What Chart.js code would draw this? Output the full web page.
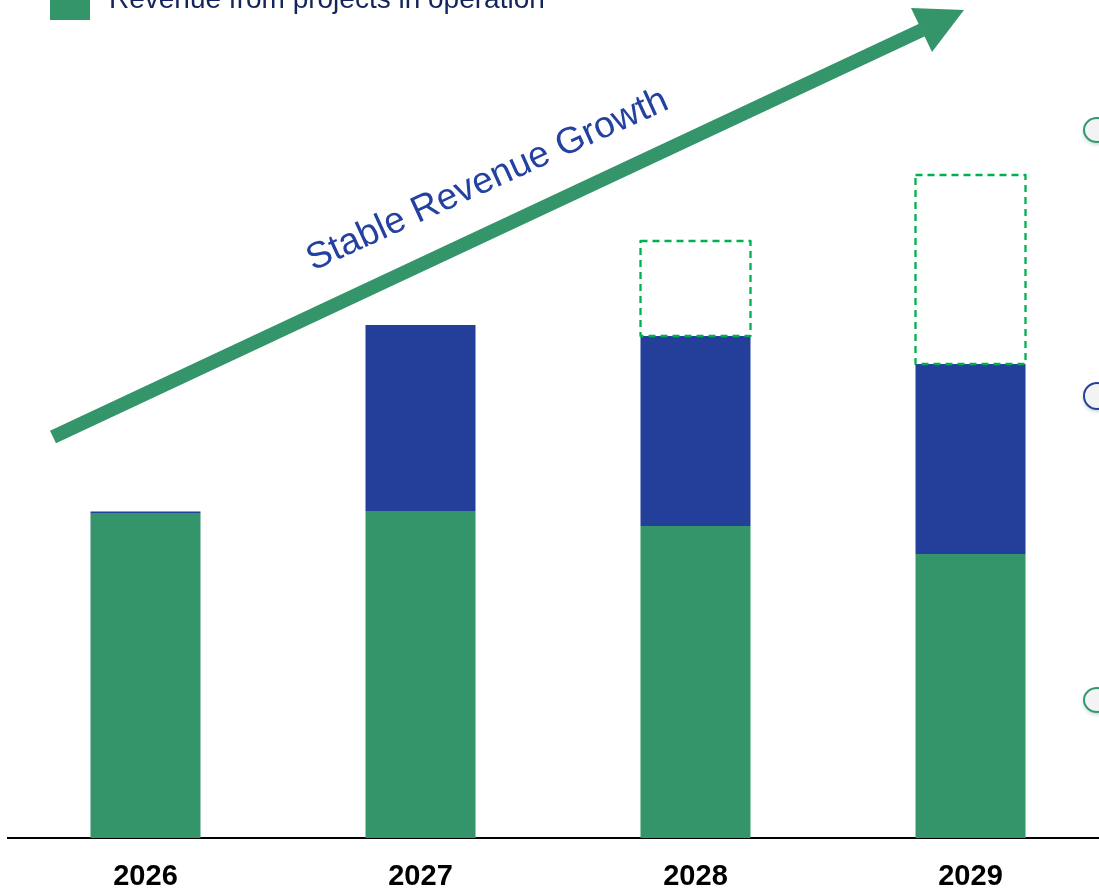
<!DOCTYPE html>
<html>
<head>
<meta charset="utf-8">
<script src="https://cdn.jsdelivr.net/npm/chart.js@4/dist/chart.umd.min.js"></script>
<style>
  html, body { margin: 0; padding: 0; background: #fff; overflow: hidden; }
  #wrap { width: 1110px; height: 889px; }
</style>
</head>
<body>
<div id="wrap"><canvas id="revenue-chart" width="1110" height="889"></canvas></div>
<script>
// values (arbitrary revenue units)
var years = ["2026", "2027", "2028", "2029"];
var operating = [32.5, 32.7, 31.2, 28.4];
var construction = [0.15, 18.6, 19.0, 19.0];
var pipeline = [0, 0, 9.5, 18.9];
var yMax = 83.8;

var FONT = "Arial, 'Liberation Sans', Helvetica, sans-serif";

// dashed outline for the pipeline segment, taken from the bar elements
var dashedBars = {
  id: 'dashedBars',
  afterDatasetsDraw: function (chart) {
    var ctx = chart.ctx;
    var meta = chart.getDatasetMeta(2);
    ctx.save();
    ctx.strokeStyle = '#00b050';
    ctx.lineWidth = 2.3;
    ctx.setLineDash([7, 5]);
    ctx.lineJoin = 'round';
    meta.data.forEach(function (bar, i) {
      if (!pipeline[i]) return;
      var w = bar.width;
      ctx.strokeRect(bar.x - w / 2, bar.y, w, bar.base - bar.y);
    });
    ctx.restore();
  }
};

// arrow, caption, cut-off legend and side markers
var decorations = {
  id: 'decorations',
  afterDraw: function (chart) {
    var ctx = chart.ctx;
    ctx.save();

    // arrow shaft + head
    ctx.strokeStyle = '#34946a';
    ctx.fillStyle = '#34946a';
    ctx.lineWidth = 14;
    ctx.lineCap = 'butt';
    ctx.beginPath();
    ctx.moveTo(53, 437);
    ctx.lineTo(922, 30);
    ctx.stroke();
    ctx.beginPath();
    ctx.moveTo(964, 10);
    ctx.lineTo(911, 8);
    ctx.lineTo(932, 52);
    ctx.closePath();
    ctx.fill();

    // caption along the arrow
    ctx.save();
    ctx.translate(313, 271);
    ctx.rotate(-24.5 * Math.PI / 180);
    ctx.font = '37px ' + FONT;
    ctx.fillStyle = '#2341a0';
    ctx.textAlign = 'left';
    ctx.textBaseline = 'alphabetic';
    ctx.fillText('Stable Revenue Growth', 0, 0);
    ctx.restore();

    // legend (cut off at top)
    ctx.fillStyle = '#34946a';
    ctx.fillRect(50, -20, 40, 40);
    ctx.fillStyle = '#14245c';
    ctx.font = '28px ' + FONT;
    ctx.textBaseline = 'alphabetic';
    ctx.fillText('Revenue from projects in operation', 109, 8);

    // markers on the right edge
    var marks = [[130, 12, '#2e9a6e'], [396, 13, '#27409a'], [700, 12, '#2e9a6e']];
    marks.forEach(function (m) {
      ctx.save();
      ctx.shadowColor = 'rgba(40,110,90,0.35)';
      ctx.shadowBlur = 4;
      ctx.shadowOffsetY = 2;
      ctx.beginPath();
      ctx.ellipse(1097, m[0], 13, m[1], 0, 0, Math.PI * 2);
      ctx.fillStyle = '#f3f3f3';
      ctx.fill();
      ctx.restore();
      ctx.beginPath();
      ctx.ellipse(1097, m[0], 13, m[1], 0, 0, Math.PI * 2);
      ctx.lineWidth = 2;
      ctx.strokeStyle = m[2];
      ctx.stroke();
    });

    ctx.restore();
  }
};

new Chart(document.getElementById('revenue-chart'), {
  type: 'bar',
  data: {
    labels: years,
    datasets: [
      {
        label: 'Revenue from projects in operation',
        data: operating,
        backgroundColor: '#34946a',
        borderWidth: 0
      },
      {
        label: 'Revenue from projects under construction',
        data: construction,
        backgroundColor: '#233f99',
        borderWidth: 0
      },
      {
        label: 'Pipeline',
        data: pipeline,
        backgroundColor: 'rgba(0,0,0,0)',
        borderWidth: 0
      }
    ]
  },
  options: {
    responsive: false,
    animation: false,
    devicePixelRatio: 1,
    layout: { padding: { left: 8, right: 2, top: 0, bottom: 0 } },
    datasets: { bar: { categoryPercentage: 1, barPercentage: 0.4 } },
    plugins: {
      legend: { display: false },
      tooltip: { enabled: false }
    },
    scales: {
      x: {
        stacked: true,
        grid: { display: false },
        border: { display: true, color: '#000', width: 2 },
        ticks: {
          color: '#000',
          padding: 14,
          font: { family: FONT, size: 29, weight: 'bold' }
        },
        afterFit: function (scale) { scale.height = 51; }
      },
      y: {
        stacked: true,
        display: false,
        min: 0,
        max: yMax
      }
    }
  },
  plugins: [dashedBars, decorations]
});
</script>
</body>
</html>
